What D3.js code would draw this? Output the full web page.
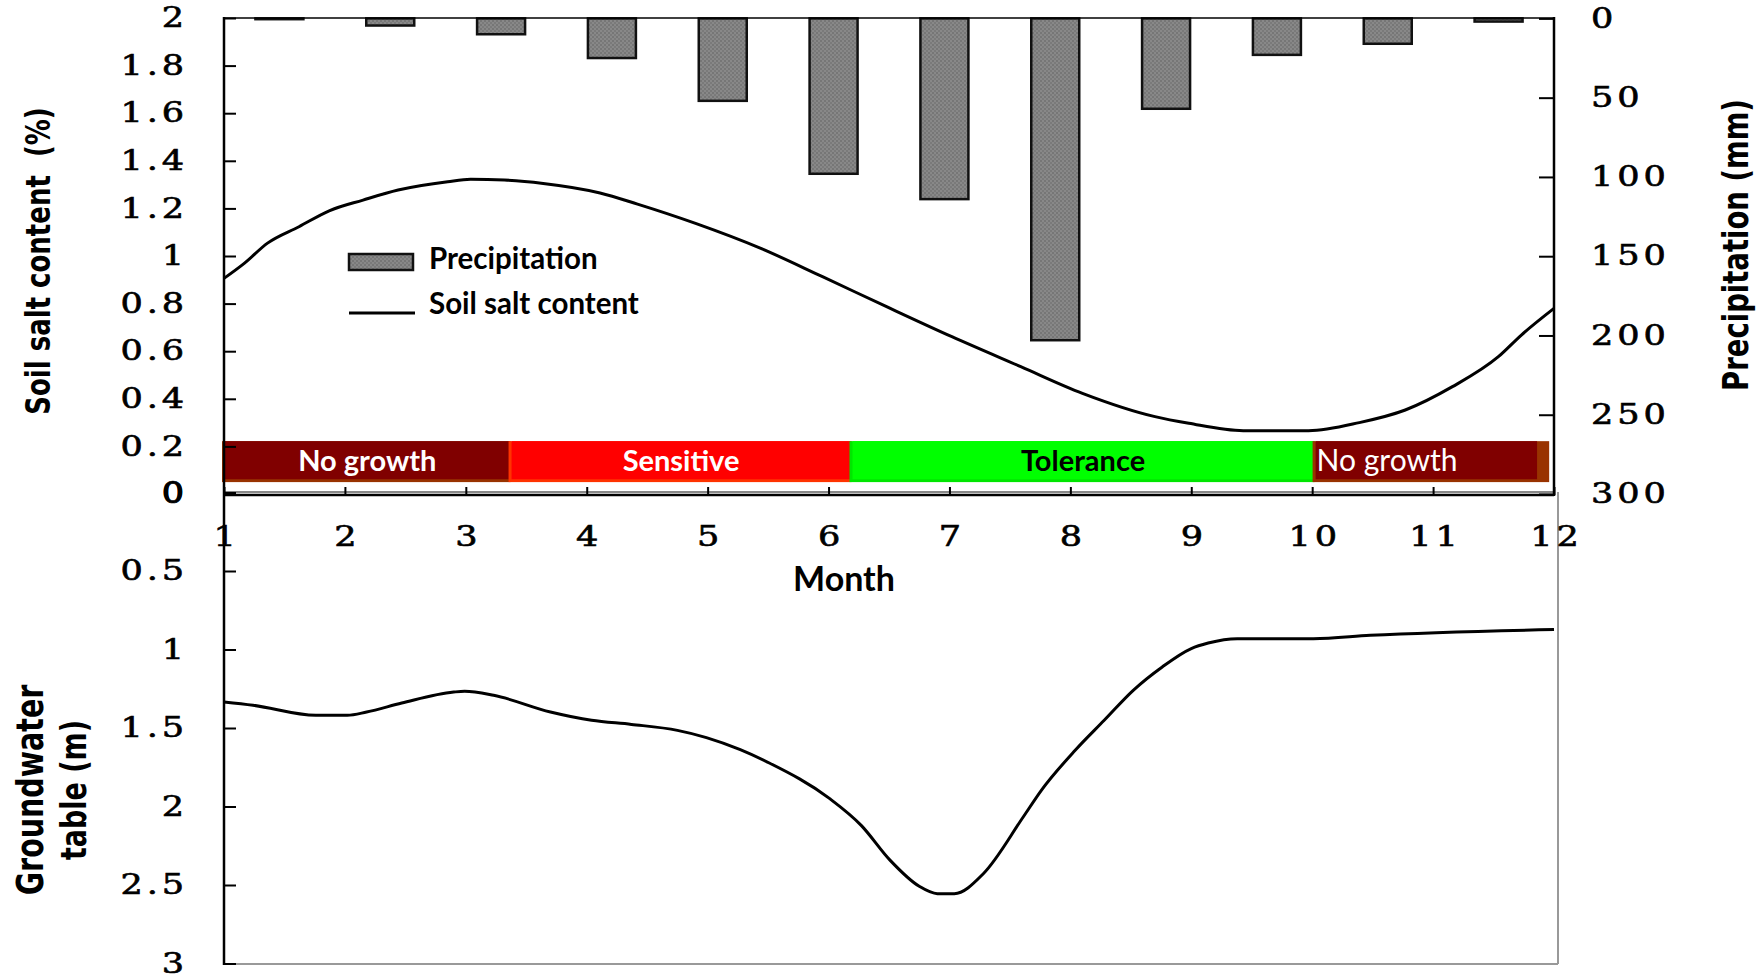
<!DOCTYPE html>
<html>
<head>
<meta charset="utf-8">
<script src="https://cdn.jsdelivr.net/npm/d3@7/dist/d3.min.js"></script>
<style>
  body { margin: 0; background: #fff; }
  svg { display: block; }
</style>
</head>
<body>
<div id="chart"></div>
<script>
// ---- data ----
const months = [1, 2, 3, 4, 5, 6, 7, 8, 9, 10, 11, 12];
const precipitation = [0.5, 4.5, 10, 25, 52, 98, 114, 203, 57, 23, 16, 2]; // mm

// soil salt content (%) sampled along the curve
const saltMonth = [1.0, 1.17, 1.36, 1.62, 1.87, 2.15, 2.44, 2.85, 3.04, 3.32, 3.64, 4.11, 4.42, 4.90, 5.44,
    5.95, 6.48, 7.02, 7.59, 8.10, 8.70, 8.98, 9.43, 9.97, 10.39, 10.77, 11.16, 11.54, 11.73, 12.0];
const saltContent = [0.906, 0.97, 1.054, 1.123, 1.19, 1.235, 1.277, 1.312, 1.322, 1.319, 1.305, 1.265, 1.218, 1.137, 1.032,
    0.913, 0.787, 0.661, 0.535, 0.423, 0.325, 0.297, 0.266, 0.266, 0.30, 0.353, 0.451, 0.577, 0.668, 0.78];

// groundwater table depth (m)
const gwMonth = [1.0, 1.24, 1.76, 2.02, 2.18, 2.47, 2.90, 2.99, 3.23, 3.70, 4.04, 4.37, 4.75, 4.99, 5.27, 5.51,
    6.01, 6.27, 6.51, 6.75, 6.90, 7.04, 7.28, 7.61, 7.76, 8.04, 8.28, 8.52, 8.76, 9.00, 9.14, 9.38, 10.01, 10.48, 12.0];
const gwDepth = [1.334, 1.355, 1.419, 1.419, 1.398, 1.341, 1.271, 1.266, 1.292, 1.398, 1.451, 1.477, 1.515, 1.561, 1.638, 1.723,
    1.95, 2.12, 2.343, 2.508, 2.555, 2.555, 2.428, 2.067, 1.897, 1.642, 1.451, 1.26, 1.111, 0.994, 0.959, 0.931, 0.931, 0.91, 0.873];

// growth stages
const stageNames = ["No growth", "Sensitive", "Tolerance", "No growth"];
const stageStart = [1, 3.37, 6.19, 10.02];
const stageEnd = [3.37, 6.19, 10.02, 11.86];
const stageEdgeEnd = [3.37, 6.19, 10.02, 11.96];
const stageColors = ["#800000", "#ff0000", "#00ff00", "#800000"];
const stageEdge = ["#993300", "#ff3300", "#00e600", "#993300"];
const stageText = ["#ffffff", "#ffffff", "#000000", "#ffffff"];

// tick values
const saltTicks = [0, 0.2, 0.4, 0.6, 0.8, 1, 1.2, 1.4, 1.6, 1.8, 2];
const precipTicks = [0, 50, 100, 150, 200, 250, 300];
const gwTicks = [0, 0.5, 1, 1.5, 2, 2.5, 3];

const width = 1757;
const height = 978;
const stretch = 1.3; // the original figure is widened horizontally

const svg = d3.select("#chart").append("svg")
    .attr("width", width)
    .attr("height", height);

// bar texture
const pat = svg.append("defs").append("pattern")
    .attr("id", "hatch")
    .attr("width", 4).attr("height", 4)
    .attr("patternUnits", "userSpaceOnUse");
pat.append("rect").attr("width", 4).attr("height", 4).attr("fill", "#888");
pat.append("rect").attr("width", 2).attr("height", 2).attr("fill", "#767676");
pat.append("rect").attr("x", 2).attr("y", 2).attr("width", 2).attr("height", 2).attr("fill", "#7a7a7a");

// scales
const x = d3.scaleLinear().domain([1, 12]).range([224, 1554]);
const xBand = d3.scaleBand().domain(months).range([224, 1554]).paddingInner(0.567).paddingOuter(0.2835);
const ySalt = d3.scaleLinear().domain([0, 2]).range([494, 18]);
const yPrecip = d3.scaleLinear().domain([0, 300]).range([18.4, 494]);
const yGw = d3.scaleLinear().domain([0, 3]).range([492.5, 963.5]);

const tickFont = "'DejaVu Serif', serif";

function styleTicks(g, anchorShift) {
    g.select(".domain").remove();
    g.selectAll(".tick line").attr("stroke", "#000").attr("stroke-width", 2);
    g.selectAll(".tick text")
        .attr("font-family", tickFont)
        .attr("font-size", 27)
        .attr("letter-spacing", 3)
        .attr("fill", "#000")
        .attr("stroke", "#000")
        .attr("stroke-width", 0.6)
        .each(function () {
            const t = d3.select(this);
            const x0 = (+t.attr("x") || 0) + anchorShift;
            t.attr("x", x0 / stretch).attr("transform", `scale(${stretch},1)`);
        });
}

// bars (precipitation hangs from the top)
svg.append("g").selectAll("rect")
    .data(precipitation)
    .join("rect")
    .attr("x", (d, i) => xBand(months[i]))
    .attr("y", yPrecip(0))
    .attr("width", xBand.bandwidth())
    .attr("height", d => yPrecip(d) - yPrecip(0))
    .attr("fill", "url(#hatch)")
    .attr("stroke", "#111")
    .attr("stroke-width", 2.5);

// growth stage strip
const stage = svg.append("g").selectAll("g")
    .data(stageNames)
    .join("g");
stage.append("rect")
    .attr("x", (d, i) => x(stageStart[i]) - 2)
    .attr("y", ySalt(0.222))
    .attr("width", (d, i) => x(stageEdgeEnd[i]) - x(stageStart[i]) + 2)
    .attr("height", ySalt(0.05) - ySalt(0.222))
    .attr("fill", (d, i) => stageEdge[i]);
stage.append("rect")
    .attr("x", (d, i) => x(stageStart[i]) + 1)
    .attr("y", ySalt(0.222))
    .attr("width", (d, i) => x(stageEnd[i]) - x(stageStart[i]) - 1)
    .attr("height", ySalt(0.062) - ySalt(0.222))
    .attr("fill", (d, i) => stageColors[i]);
stage.append("text")
    .attr("x", (d, i) => i < 3 ? (x(stageStart[i]) + x(stageEnd[i])) / 2 : x(stageStart[i]) + 2)
    .attr("y", 471)
    .attr("text-anchor", (d, i) => i < 3 ? "middle" : "start")
    .attr("font-family", "Lato, 'Open Sans', sans-serif")
    .attr("font-size", (d, i) => i < 3 ? 29 : 30)
    .attr("font-weight", (d, i) => i < 3 ? "bold" : "normal")
    .attr("fill", (d, i) => stageText[i])
    .text(d => d);

// soil salt line
const saltLine = d3.line()
    .x((d, i) => x(saltMonth[i]))
    .y(d => ySalt(d))
    .curve(d3.curveMonotoneX);
svg.append("path")
    .attr("d", saltLine(saltContent))
    .attr("fill", "none")
    .attr("stroke", "#000")
    .attr("stroke-width", 3);

// groundwater line
const gwLine = d3.line()
    .x((d, i) => x(gwMonth[i]))
    .y(d => yGw(d))
    .curve(d3.curveMonotoneX);
svg.append("path")
    .attr("d", gwLine(gwDepth))
    .attr("fill", "none")
    .attr("stroke", "#000")
    .attr("stroke-width", 3);

// frame lines
const frame = svg.append("g").attr("fill", "none");
frame.append("line").attr("x1", 224).attr("x2", 1558).attr("y1", 964).attr("y2", 964)
    .attr("stroke", "#999").attr("stroke-width", 2);
frame.append("line").attr("x1", 1558).attr("x2", 1558).attr("y1", 492).attr("y2", 964)
    .attr("stroke", "#999").attr("stroke-width", 2);
frame.append("line").attr("x1", 224).attr("x2", 1554).attr("y1", 492).attr("y2", 492)
    .attr("stroke", "#888").attr("stroke-width", 2);
frame.append("line").attr("x1", 224).attr("x2", 1554).attr("y1", 495).attr("y2", 495)
    .attr("stroke", "#000").attr("stroke-width", 2.5);
frame.append("line").attr("x1", 224).attr("x2", 1554).attr("y1", 18).attr("y2", 18)
    .attr("stroke", "#000").attr("stroke-width", 1.5);
frame.append("line").attr("x1", 224).attr("x2", 224).attr("y1", 17).attr("y2", 965)
    .attr("stroke", "#000").attr("stroke-width", 2.5);
frame.append("line").attr("x1", 1554).attr("x2", 1554).attr("y1", 17).attr("y2", 496)
    .attr("stroke", "#000").attr("stroke-width", 2.5);

// axes
svg.append("g")
    .attr("transform", "translate(224,0)")
    .call(d3.axisLeft(ySalt).tickValues(saltTicks).tickSizeInner(-12).tickSizeOuter(0)
        .tickPadding(36).tickFormat(d => String(+d.toFixed(1))))
    .call(g => styleTicks(g, 0));

svg.append("g")
    .attr("transform", "translate(224,0)")
    .call(d3.axisLeft(yGw).tickValues(gwTicks).tickSizeInner(-12).tickSizeOuter(0)
        .tickPadding(36).tickFormat(d => String(d)))
    .call(g => styleTicks(g, 0));

svg.append("g")
    .attr("transform", "translate(1554,0)")
    .call(d3.axisRight(yPrecip).tickValues(precipTicks).tickSizeInner(-15).tickSizeOuter(0)
        .tickPadding(37))
    .call(g => styleTicks(g, 0));

svg.append("g")
    .attr("transform", "translate(0,495)")
    .call(d3.axisBottom(x).tickValues(months).tickSizeInner(-8).tickSizeOuter(0)
        .tickPadding(32).tickFormat(d => String(d)))
    .call(g => styleTicks(g, 2));

// axis titles
const titleFont = "'DejaVu Sans', Verdana, sans-serif";
function vTitle(cx, cy, size, label) {
    svg.append("text")
        .attr("transform", `translate(${cx},${cy}) scale(${stretch},1) rotate(-90)`)
        .attr("text-anchor", "middle")
        .attr("font-family", titleFont)
        .attr("font-weight", "bold")
        .attr("font-size", size)
        .attr("fill", "#000")
        .style("white-space", "pre")
        .text(label);
}
vTitle(50, 261, 26, "Soil salt content  (%)");
vTitle(1748, 245, 27.5, "Precipitation (mm)");
vTitle(43, 790, 28.5, "Groundwater");
vTitle(86, 790, 27, "table (m)");

svg.append("text")
    .attr("x", 844)
    .attr("y", 591)
    .attr("text-anchor", "middle")
    .attr("font-family", "Lato, sans-serif")
    .attr("font-weight", "bold")
    .attr("font-size", 34)
    .text("Month");

// legend
const legend = svg.append("g")
    .attr("font-family", "Lato, sans-serif")
    .attr("font-weight", "bold")
    .attr("font-size", 29.5);
legend.append("rect")
    .attr("x", 349).attr("y", 254).attr("width", 64).attr("height", 16)
    .attr("fill", "url(#hatch)").attr("stroke", "#111").attr("stroke-width", 2.5);
legend.append("text").attr("x", 429).attr("y", 269).text("Precipitation");
legend.append("line")
    .attr("x1", 349).attr("x2", 415).attr("y1", 313).attr("y2", 313)
    .attr("stroke", "#000").attr("stroke-width", 3);
legend.append("text").attr("x", 429).attr("y", 314).text("Soil salt content");
</script>
</body>
</html>
